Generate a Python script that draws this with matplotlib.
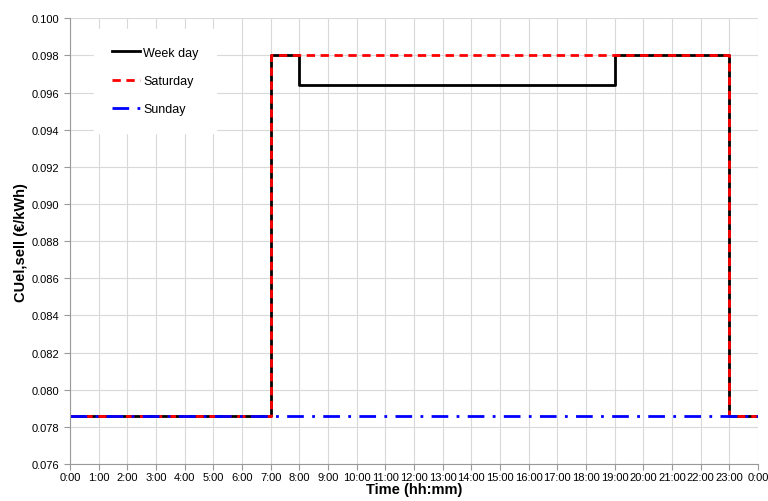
import numpy as np
import matplotlib.pyplot as plt

plt.rcParams['font.family'] = ['Liberation Sans', 'DejaVu Sans']

# ==========================================
# Data (hourly tariff, step after each hour)
# ==========================================
hours = list(range(25))
tick_labels = [f"{h % 24}:00" for h in hours]

base = 0.0786
peak = 0.098
mid = 0.0964

weekday = [base] * 7 + [peak] + [mid] * 11 + [peak] * 4 + [base] + [base]
saturday = [base] * 7 + [peak] * 16 + [base] + [base]
sunday = [base] * 25

yticks = [0.076, 0.078, 0.080, 0.082, 0.084, 0.086, 0.088,
          0.090, 0.092, 0.094, 0.096, 0.098, 0.100]

# ==========================================
# Plot
# ==========================================
fig = plt.figure(figsize=(7.68, 5.02), dpi=100)
ax = fig.add_axes([0.0911, 0.0737, 0.896, 0.888])

ax.step(hours, weekday, where="post", color="black", lw=2, label="Week day")
ax.step(hours, saturday, where="post", color="red", lw=2,
        linestyle=(0, (3, 2)), label="Saturday")
ax.step(hours, sunday, where="post", color="blue", lw=2,
        linestyle=(0, (6, 3, 1, 3)), label="Sunday")

ax.set_xlim(0, 24)
ax.set_ylim(0.076, 0.100)
ax.set_xticks(hours)
ax.set_xticklabels(tick_labels, fontsize=8)
ax.set_yticks(yticks)
ax.set_yticklabels([f"{v:.3f}" for v in yticks], fontsize=8)

ax.grid(True, color="#d9d9d9", lw=0.8)
ax.set_axisbelow(True)
for s in ["top", "right"]:
    ax.spines[s].set_visible(False)
for s in ["left", "bottom"]:
    ax.spines[s].set_color("#999999")
ax.tick_params(colors="#999999", labelcolor="black", length=4, width=0.8)
ax.tick_params(axis="x", pad=2)

ax.set_xlabel("Time (hh:mm)", fontsize=10.5, fontweight="bold", labelpad=0)
ax.set_ylabel("CUel,sell (€/kWh)", fontsize=10.5, fontweight="bold", labelpad=3)

leg = ax.legend(loc="upper left", bbox_to_anchor=(0.0356, 0.975), fontsize=9,
                frameon=True, fancybox=False, edgecolor="white",
                framealpha=1, handlelength=2.25, handletextpad=0.25,
                labelspacing=1.3, borderpad=1.4, borderaxespad=0)

fig.savefig("out.png", dpi=100)
